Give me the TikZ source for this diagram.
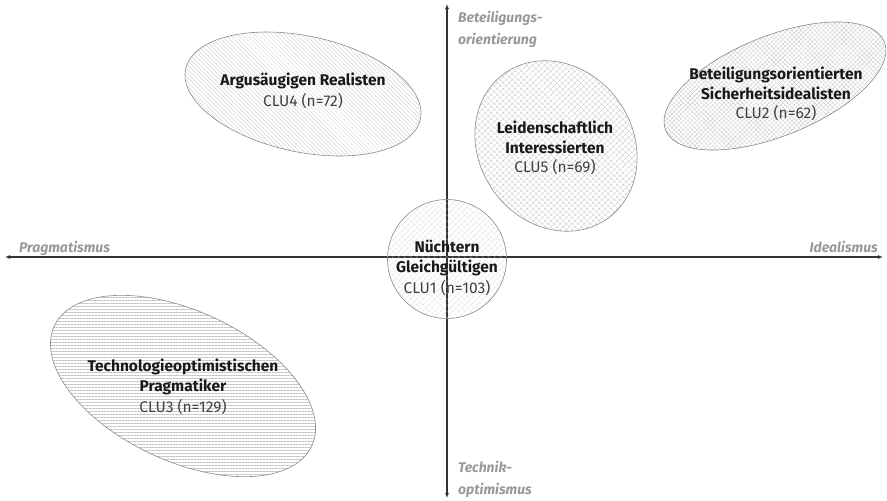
\documentclass[tikz,border=0pt]{standalone}
\usepackage{fontspec}
\setmainfont{Fira Sans}
\usetikzlibrary{shapes.geometric,patterns.meta,arrows.meta}
\definecolor{axisc}{HTML}{333333}
\definecolor{labelc}{HTML}{999999}
\definecolor{rimc}{HTML}{8A8A8A}
\definecolor{hatchc}{HTML}{C4C4C4}
\tikzset{
  axis/.style={draw=axisc, line width=1.3pt, {Latex[length=5pt,width=4pt]}-{Latex[length=5pt,width=4pt]}},
  axislabel/.style={text=labelc, font=\fontsize{14}{22}\selectfont\bfseries\itshape, inner sep=0pt},
  cluster/.style={ellipse, draw=rimc, line width=0.6pt, inner sep=0pt},
  title/.style={font=\fontsize{15.5}{20}\selectfont\bfseries, align=center, text=black!90, inner sep=0pt},
  sub/.style={font=\fontsize{15.5}{20}\selectfont, text=black!75, inner sep=0pt},
}
\begin{document}
\begin{tikzpicture}[x=1pt,y=-1pt]
\useasboundingbox (0,0) rectangle (887,501);

% axes
\coordinate (W) at (5,257);
\coordinate (E) at (883,257);
\coordinate (N) at (447,4);
\coordinate (S) at (447,498);
\draw[axis] (W) -- (E);
\draw[axis] (S) -- (N);

% clusters
\node[cluster, minimum width=240pt, minimum height=116pt, rotate=-12,
      pattern={Lines[angle=-45,distance=3pt,line width=0.3pt]}, pattern color=hatchc] (c4) at (303,94) {};
\node[cluster, minimum width=236pt, minimum height=100pt, rotate=22,
      pattern={Hatch[angle=45,distance=3.2pt,line width=0.25pt]}, pattern color=hatchc] (c2) at (775,86) {};
\node[cluster, minimum width=178pt, minimum height=154pt, rotate=-55,
      pattern={Hatch[angle=45,distance=4pt,line width=0.3pt]}, pattern color=hatchc] (c5) at (556,146) {};
\node[cluster, circle, minimum size=119pt,
      pattern={Hatch[angle=45,distance=4pt,line width=0.25pt]}, pattern color=hatchc] (c1) at (447,259) {};
\node[cluster, minimum width=284pt, minimum height=150pt, rotate=-25,
      pattern={Lines[angle=0,distance=3pt,line width=0.3pt]}, pattern color=hatchc] (c3) at (183,386) {};

% cluster texts
\node[title] (t4) at (303,81) {Argusäugigen Realisten};
\node[sub] (s4) at (303,101) {CLU4 (n=72)};

\node[title] (t2) at (776,83) {Beteiligungsorientierten\\Sicherheitsidealisten};
\node[sub] (s2) at (776,113) {CLU2 (n=62)};

\node[title] (t5) at (555,137) {Leidenschaftlich\\Interessierten};
\node[sub] (s5) at (555,167) {CLU5 (n=69)};

\node[title] (t1) at (447,258) {Nüchtern\\Gleichgültigen};
\node[sub] (s1) at (447,288) {CLU1 (n=103)};

\node[title] (t3) at (183,377) {Technologieoptimistischen\\Pragmatiker};
\node[sub] (s3) at (183,407) {CLU3 (n=129)};

% axis labels
\node[axislabel, anchor=base west] (lp) at (19,252) {Pragmatismus};
\node[axislabel, anchor=base east] (li) at (878,252) {Idealismus};
\node[axislabel, anchor=north west, align=left] (lb) at (458,11) {Beteiligungs-\\orientierung};
\node[axislabel, anchor=north west, align=left] (lt) at (458,461) {Technik-\\optimismus};
\end{tikzpicture}
\end{document}
